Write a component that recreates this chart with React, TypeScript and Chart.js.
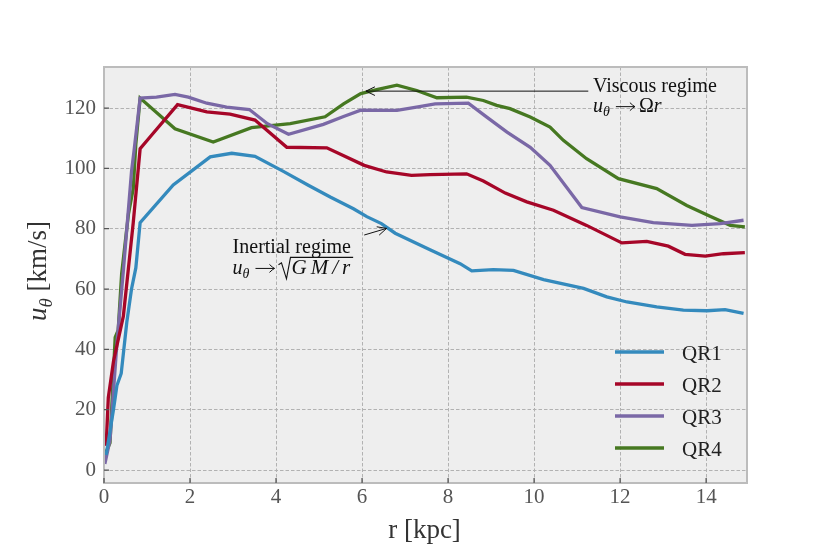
import React, { useRef, useEffect } from 'react';
import { Chart, registerables } from 'chart.js';

Chart.register(...registerables);

// radius [kpc] and rotation velocity [km/s] for each run
const qr1R = [0.05, 0.22, 0.3, 0.4, 0.53, 0.64, 0.74, 0.84, 1.61, 2.47, 2.97, 3.51, 4.17, 4.75, 5.26, 5.8, 6.11, 6.45, 6.77, 7.58, 8.28, 8.55, 9.05, 9.52, 10.22, 11.15, 11.69, 12.16, 12.85, 13.47, 14.02, 14.44, 14.87];
const qr1V = [5, 20, 28, 32, 49, 60, 67, 82, 94.5, 103.8, 105, 104, 99, 94.4, 90.5, 86.6, 84, 81.7, 78.5, 73, 68.4, 66, 66.4, 66.2, 63.1, 60.2, 57.4, 55.7, 54.1, 53, 52.8, 53.2, 51.9];

const qr2R = [0.05, 0.1, 0.22, 0.45, 0.68, 0.84, 1.07, 1.71, 2.39, 2.93, 3.51, 4.25, 5.18, 6.05, 6.57, 7.15, 7.58, 8.43, 8.82, 9.33, 9.83, 10.45, 11.22, 12.04, 12.62, 13.12, 13.51, 13.98, 14.4, 14.9];
const qr2V = [8, 24, 36, 51, 82, 106.5, 110.4, 121.1, 118.7, 118, 116, 107, 106.8, 101, 98.8, 97.7, 97.9, 98.2, 95.8, 91.8, 88.9, 86.1, 81.1, 75.3, 75.8, 74.2, 71.5, 70.9, 71.7, 72.1];

const qr3R = [0.02, 0.14, 0.3, 0.45, 0.64, 0.7, 0.84, 1.22, 1.65, 1.96, 2.39, 2.85, 3.38, 3.8, 4.29, 5.1, 5.57, 5.97, 6.81, 7.3, 7.7, 8.47, 8.9, 9.37, 9.91, 10.37, 11.11, 12.0, 12.77, 13.67, 14.33, 14.87];
const qr3V = [2, 10, 42, 66, 99, 106, 123.3, 123.6, 124.5, 123.6, 121.6, 120.3, 119.5, 114.8, 111.3, 114.6, 117.2, 119.3, 119.2, 120.4, 121.4, 121.6, 117, 112, 107, 101, 87, 83.9, 82, 81.1, 81.7, 82.8];

const qr4R = [0.02, 0.14, 0.26, 0.33, 0.41, 0.57, 0.68, 0.74, 0.84, 1.65, 2.54, 3.43, 4.33, 5.14, 5.57, 5.97, 6.34, 6.81, 7.27, 7.74, 8.43, 8.82, 9.13, 9.44, 9.91, 10.37, 10.68, 11.22, 11.96, 12.85, 13.55, 14.09, 14.56, 14.9];
const qr4V = [5, 9, 44, 46.4, 65, 85, 93.3, 108, 123.3, 113.1, 108.7, 113.5, 114.8, 117.1, 121.4, 124.8, 126.1, 127.6, 125.8, 123.4, 123.6, 122.5, 120.9, 119.8, 117, 113.7, 109.3, 103.2, 96.6, 93.3, 87.7, 84.1, 81.1, 80.6];

const seriesLabels = ['QR1', 'QR2', 'QR3', 'QR4'];
const seriesR = [qr1R, qr2R, qr3R, qr4R];
const seriesV = [qr1V, qr2V, qr3V, qr4V];
const seriesColors = ['#348ABD', '#A60628', '#7A68A6', '#467821'];

const xTicks = [0, 2, 4, 6, 8, 10, 12, 14];
const yTicks = [0, 20, 40, 60, 80, 100, 120];
const xRange = [0, 14.95];
const yRange = [-4.3, 133.6];

const FONT = '"Liberation Serif", "DejaVu Serif", serif';

type Seg = { t?: string; it?: boolean; sub?: boolean; arrow?: boolean; spacing?: number };

// draws a run of text pieces (italic / subscript / arrow) starting at x on baseline y
function drawMath(ctx: CanvasRenderingContext2D, segs: Seg[], x: number, y: number, size: number, draw = true) {
    let cx = x;
    for (const s of segs) {
        if (s.arrow) {
            const w = size * 0.95;
            const ax0 = cx + size * 0.3;
            const ax1 = ax0 + w;
            const ay = y - size * 0.27;
            if (draw) {
                ctx.save();
                ctx.strokeStyle = ctx.fillStyle as string;
                ctx.lineWidth = 1;
                ctx.beginPath();
                ctx.moveTo(ax0, ay);
                ctx.lineTo(ax1, ay);
                ctx.moveTo(ax1 - 5, ay - 4);
                ctx.quadraticCurveTo(ax1 - 2, ay - 1, ax1, ay);
                ctx.quadraticCurveTo(ax1 - 2, ay + 1, ax1 - 5, ay + 4);
                ctx.stroke();
                ctx.restore();
            }
            cx = ax1 + size * 0.2;
            continue;
        }
        const fs = s.sub ? size * 0.7 : size;
        ctx.font = `${s.it ? 'italic ' : ''}${fs}px ${FONT}`;
        const txt = s.t || '';
        if (s.spacing) {
            for (const ch of txt) {
                if (draw) ctx.fillText(ch, cx, y + (s.sub ? size * 0.22 : 0));
                cx += ctx.measureText(ch).width + s.spacing;
            }
        } else {
            if (draw) ctx.fillText(txt, cx, y + (s.sub ? size * 0.22 : 0));
            cx += ctx.measureText(txt).width;
        }
    }
    return cx - x;
}

function drawArrow(ctx: CanvasRenderingContext2D, x0: number, y0: number, x1: number, y1: number) {
    const a = Math.atan2(y1 - y0, x1 - x0);
    const len = 10;
    const spread = 0.45;
    ctx.beginPath();
    ctx.moveTo(x0, y0);
    ctx.lineTo(x1, y1);
    ctx.moveTo(x1 - len * Math.cos(a - spread), y1 - len * Math.sin(a - spread));
    ctx.lineTo(x1, y1);
    ctx.lineTo(x1 - len * Math.cos(a + spread), y1 - len * Math.sin(a + spread));
    ctx.stroke();
}

const decorPlugin = {
    id: 'decor',
    beforeDraw(chart: Chart) {
        const { ctx, chartArea: a } = chart;
        ctx.save();
        ctx.fillStyle = '#eeeeee';
        ctx.fillRect(a.left, a.top, a.right - a.left, a.bottom - a.top);
        ctx.restore();
    },
    afterDraw(chart: Chart) {
        const { ctx, chartArea: a } = chart;
        const xs = chart.scales.x;
        const ys = chart.scales.y;
        ctx.save();

        // frame
        ctx.strokeStyle = '#bcbcbc';
        ctx.lineWidth = 2;
        ctx.strokeRect(a.left, a.top, a.right - a.left, a.bottom - a.top);

        // inward tick marks
        ctx.strokeStyle = '#555555';
        ctx.lineWidth = 1.3;
        ctx.beginPath();
        for (const v of yTicks) {
            const p = ys.getPixelForValue(v);
            ctx.moveTo(a.left, p);
            ctx.lineTo(a.left + 5, p);
        }
        for (const v of xTicks) {
            const p = xs.getPixelForValue(v);
            ctx.moveTo(p, a.bottom);
            ctx.lineTo(p, a.bottom - 5);
        }
        ctx.stroke();

        // legend
        ctx.textBaseline = 'middle';
        ctx.fillStyle = '#222222';
        ctx.font = `21px ${FONT}`;
        seriesLabels.forEach((lab, i) => {
            const y = a.bottom - 131 + i * 32;
            ctx.strokeStyle = seriesColors[i];
            ctx.lineWidth = 3.3;
            ctx.beginPath();
            ctx.moveTo(a.right - 132, y);
            ctx.lineTo(a.right - 83, y);
            ctx.stroke();
            ctx.fillText(lab, a.right - 65, y + 2);
        });

        // annotations
        ctx.textBaseline = 'alphabetic';
        ctx.fillStyle = '#111111';
        ctx.strokeStyle = '#111111';
        ctx.lineWidth = 1;
        drawArrow(ctx, xs.getPixelForValue(11.26), ys.getPixelForValue(125.6), xs.getPixelForValue(6.09), ys.getPixelForValue(125.6));
        const vx = xs.getPixelForValue(11.37);
        const vy = ys.getPixelForValue(125.3);
        drawMath(ctx, [{ t: 'Viscous regime' }], vx, vy, 20);
        drawMath(ctx, [{ t: 'u', it: true }, { t: 'θ', it: true, sub: true }, { arrow: true }, { t: 'Ω' }, { t: 'r', it: true }], vx, vy + 20, 20);

        drawArrow(ctx, xs.getPixelForValue(6.05), ys.getPixelForValue(77.9), xs.getPixelForValue(6.57), ys.getPixelForValue(80.1));
        const ix = xs.getPixelForValue(2.99);
        const iy = ys.getPixelForValue(72.0);
        drawMath(ctx, [{ t: 'Inertial regime' }], ix, iy, 20);
        const b = iy + 21;
        const w0 = drawMath(ctx, [{ t: 'u', it: true }, { t: 'θ', it: true, sub: true }, { arrow: true }], ix, b, 20);
        const rx = ix + w0;
        const wr = drawMath(ctx, [{ t: 'GM/r', it: true, spacing: 4 }], rx + 13, b, 21);
        ctx.lineWidth = 1.1;
        ctx.beginPath();
        ctx.moveTo(rx, b - 9);
        ctx.lineTo(rx + 3, b - 11);
        ctx.lineTo(rx + 8, b + 5);
        ctx.lineTo(rx + 12, b - 16.5);
        ctx.lineTo(rx + 12 + wr, b - 16.5);
        ctx.stroke();

        // axis titles
        ctx.fillStyle = '#333333';
        ctx.font = `27px ${FONT}`;
        ctx.textAlign = 'center';
        ctx.fillText('r [kpc]', (a.left + a.right) / 2 - 1, 538);
        ctx.textAlign = 'left';
        const ySegs: Seg[] = [{ t: 'u', it: true }, { t: 'θ', it: true, sub: true }, { t: ' [km/s]' }];
        ctx.translate(46, 271);
        ctx.rotate(-Math.PI / 2);
        const yw = drawMath(ctx, ySegs, 0, 0, 27, false);
        drawMath(ctx, ySegs, -yw / 2, 0, 27);
        ctx.restore();
    },
};

const App: React.FC = () => {
    const chartRef = useRef<HTMLCanvasElement>(null);
    const chartInstance = useRef<Chart | null>(null);

    useEffect(() => {
        if (!chartRef.current) return;
        if (chartInstance.current) chartInstance.current.destroy();

        const datasets = seriesLabels.map((label, i) => ({
            label,
            data: seriesR[i].map((r, j) => ({ x: r, y: seriesV[i][j] })),
            borderColor: seriesColors[i],
            borderWidth: 3.3,
            pointRadius: 0,
            showLine: true,
            tension: 0,
            fill: false,
        }));

        chartInstance.current = new Chart(chartRef.current, {
            type: 'scatter',
            data: { datasets },
            options: {
                animation: false,
                responsive: false,
                devicePixelRatio: 1,
                layout: { padding: { top: 67, right: 83, left: 0, bottom: 0 } },
                plugins: {
                    legend: { display: false },
                    tooltip: { enabled: false },
                },
                scales: {
                    x: {
                        type: 'linear',
                        min: xRange[0],
                        max: xRange[1],
                        afterFit: (s: any) => { s.height = 71; },
                        afterBuildTicks: (s: any) => { s.ticks = xTicks.map((v) => ({ value: v })); },
                        grid: { color: '#b2b2b2', lineWidth: 1, drawTicks: false },
                        border: { display: false, dash: [3.5, 2] },
                        ticks: { color: '#555555', font: { family: FONT, size: 21 }, padding: 2, maxRotation: 0 },
                    },
                    y: {
                        type: 'linear',
                        min: yRange[0],
                        max: yRange[1],
                        afterFit: (s: any) => { s.width = 104; },
                        afterBuildTicks: (s: any) => { s.ticks = yTicks.map((v) => ({ value: v })); },
                        grid: { color: '#b2b2b2', lineWidth: 1, drawTicks: false },
                        border: { display: false, dash: [3.5, 2] },
                        ticks: { color: '#555555', font: { family: FONT, size: 21 }, padding: 8 },
                    },
                },
            },
            plugins: [decorPlugin],
        });

        return () => {
            if (chartInstance.current) {
                chartInstance.current.destroy();
                chartInstance.current = null;
            }
        };
    }, []);

    return (
        <div style={{ position: 'fixed', left: 0, top: 0, width: 830, height: 554, background: '#fff' }}>
            <canvas ref={chartRef} width={830} height={554} />
        </div>
    );
};

export default App;
